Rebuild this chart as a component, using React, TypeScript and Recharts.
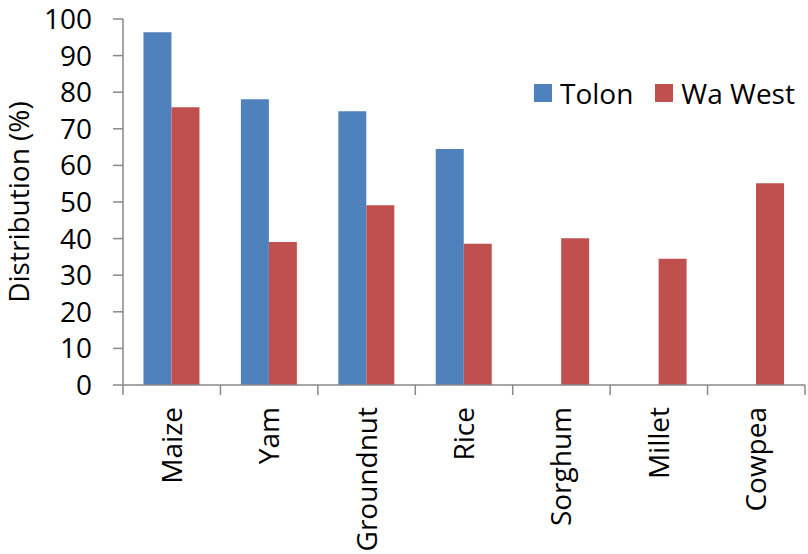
import React from 'react'
import { BarChart, Bar, XAxis, YAxis, Legend } from 'recharts'

const crops = ['Maize', 'Yam', 'Groundnut', 'Rice', 'Sorghum', 'Millet', 'Cowpea']
const tolon = [96.4, 78.1, 74.8, 64.5, null, null, null]
const waWest = [75.9, 39.1, 49.1, 38.6, 40.1, 34.5, 55.1]
const yTicks = [0, 10, 20, 30, 40, 50, 60, 70, 80, 90, 100]

const BLUE = '#4F81BD'
const RED = '#C0504D'
const AXIS = '#888888'
const FONT = '"Open Sans", sans-serif'

const data = crops.map((name, i) => ({ name, tolon: tolon[i], waWest: waWest[i] }))

// category labels run upward; tick marks sit on the category boundaries
const CropTick = (props: any) => {
  const { x, y, payload, index, visibleTicksCount } = props
  const half = payload.offset ?? 0
  return (
    <g>
      <line x1={x - half} x2={x - half} y1={y - 10} y2={y} stroke={AXIS} strokeWidth={1.5} />
      {index === visibleTicksCount - 1 && (
        <line x1={x + half} x2={x + half} y1={y - 10} y2={y} stroke={AXIS} strokeWidth={1.5} />
      )}
      <text
        transform={`translate(${x + 10},${y + 12}) rotate(-90)`}
        textAnchor="end"
        fontFamily={FONT}
        fontSize={28}
        fill="#000"
      >
        {payload.value}
      </text>
    </g>
  )
}

const AxisTitle = (props: any) => {
  const { viewBox } = props
  const cy = viewBox.y + viewBox.height / 2
  return (
    <text
      transform={`translate(29,${cy}) rotate(-90)`}
      textAnchor="middle"
      fontFamily={FONT}
      fontSize={28}
      fill="#000"
    >
      Distribution (%)
    </text>
  )
}

const legendItems = [
  { label: 'Tolon', color: BLUE },
  { label: 'Wa West', color: RED },
]

const LegendBox = () => (
  <div style={{ display: 'flex', alignItems: 'center', fontFamily: FONT, fontSize: 28, color: '#000' }}>
    {legendItems.map((item, i) => (
      <div key={item.label} style={{ display: 'flex', alignItems: 'center', marginLeft: i ? 22 : 0 }}>
        <span style={{ width: 18, height: 18, background: item.color, marginRight: 8, display: 'inline-block' }} />
        <span style={{ lineHeight: '32px' }}>{item.label}</span>
      </div>
    ))}
  </div>
)

export default function App() {
  return (
    <div style={{ width: 808, height: 554, background: '#fff' }}>
      <style>{'body{margin:0}'}</style>
      <BarChart
        width={808}
        height={554}
        data={data}
        margin={{ top: 19, right: 3, bottom: 0, left: 0 }}
        barCategoryGap="21%"
        barGap={0}
      >
        <XAxis
          dataKey="name"
          height={169}
          axisLine={{ stroke: AXIS, strokeWidth: 1.5 }}
          tickLine={false}
          tickSize={10}
          tickMargin={0}
          interval={0}
          tick={<CropTick />}
        />
        <YAxis
          width={123}
          domain={[0, 100]}
          ticks={yTicks}
          interval={0}
          axisLine={{ stroke: AXIS, strokeWidth: 1.5 }}
          tickLine={{ stroke: AXIS, strokeWidth: 1.5 }}
          tickSize={10}
          tickMargin={21}
          tick={{ fill: '#000', fontSize: 28, fontFamily: FONT }}
          label={<AxisTitle />}
        />
        <Legend
          layout="horizontal"
          verticalAlign="middle"
          align="center"
          content={<LegendBox />}
          wrapperStyle={{ left: 534, top: 77, width: 274 }}
        />
        <Bar dataKey="tolon" name="Tolon" fill={BLUE} isAnimationActive={false} />
        <Bar dataKey="waWest" name="Wa West" fill={RED} isAnimationActive={false} />
      </BarChart>
    </div>
  )
}
